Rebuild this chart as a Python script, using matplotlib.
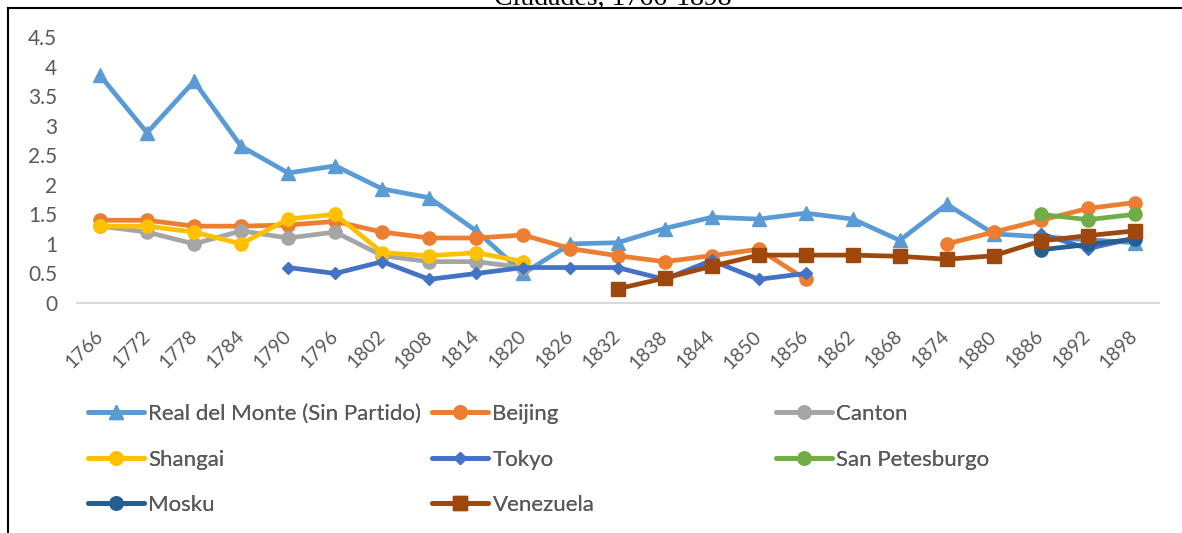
import numpy as np
import matplotlib
matplotlib.use("Agg")
from matplotlib import pyplot as plt
from matplotlib.lines import Line2D

plt.rcParams['font.family'] = ['Lato', 'DejaVu Sans']

years = [1766, 1772, 1778, 1784, 1790, 1796, 1802, 1808, 1814, 1820, 1826, 1832,
         1838, 1844, 1850, 1856, 1862, 1868, 1874, 1880, 1886, 1892, 1898]
N = None

real_del_monte = [3.85, 2.88, 3.75, 2.65, 2.2, 2.32, 1.93, 1.78, 1.22, 0.5, 1.0, 1.02,
                  1.26, 1.45, 1.42, 1.52, 1.42, 1.06, 1.67, 1.17, 1.12, 1.07, 1.02]
beijing = [1.4, 1.4, 1.3, 1.3, 1.32, 1.38, 1.2, 1.1, 1.1, 1.15, 0.92, 0.8,
           0.7, 0.8, 0.91, 0.4, N, N, 1.0, 1.2, 1.4, 1.6, 1.7]
canton = [1.3, 1.2, 1.0, 1.22, 1.1, 1.2, 0.8, 0.7, 0.7, 0.6, N, N,
          N, N, N, N, N, N, N, N, N, N, N]
shangai = [1.3, 1.3, 1.2, 1.0, 1.42, 1.5, 0.85, 0.8, 0.85, 0.7, N, N,
           N, N, N, N, N, N, N, N, N, N, N]
tokyo = [N, N, N, N, 0.6, 0.5, 0.7, 0.4, 0.5, 0.6, 0.6, 0.6,
         0.4, 0.72, 0.4, 0.5, N, N, N, N, 1.17, 0.92, 1.1]
san_petesburgo = [N] * 20 + [1.5, 1.41, 1.5]
mosku = [N] * 20 + [0.9, 0.99, 1.08]
venezuela = [N, N, N, N, N, N, N, N, N, N, N, 0.24,
             0.42, 0.62, 0.81, 0.81, 0.81, 0.79, 0.74, 0.8, 1.05, 1.14, 1.22]

series = [
    ("Real del Monte (Sin Partido)", real_del_monte, "#5B9BD5", "^", 10),
    ("Beijing", beijing, "#ED7D31", "o", 9.5),
    ("Canton", canton, "#A5A5A5", "o", 9.5),
    ("Shangai", shangai, "#FFC000", "o", 9.5),
    ("Tokyo", tokyo, "#4472C4", "D", 6.5),
    ("San Petesburgo", san_petesburgo, "#70AD47", "o", 9.5),
    ("Mosku", mosku, "#255E91", "o", 9.5),
    ("Venezuela", venezuela, "#9E480E", "s", 9.5),
]

fig = plt.figure(figsize=(11.82, 5.33), dpi=100)
ax = fig.add_axes([76.5 / 1182, 1 - 303 / 533, (1158.5 - 76.5) / 1182, (303 - 37) / 533])

x = np.arange(len(years))
handles = []
for name, vals, color, marker, ms in series:
    y = np.array([np.nan if v is None else v for v in vals], dtype=float)
    h, = ax.plot(x, y, color=color, lw=3.4, marker=marker, markersize=ms,
                 markeredgecolor=color, label=name, solid_capstyle='round')
    handles.append(h)

ax.set_xlim(-0.5, len(years) - 0.5)
ax.set_ylim(0, 4.5)
ax.set_yticks(np.arange(0, 4.51, 0.5))
ax.set_yticklabels(["0", "0.5", "1", "1.5", "2", "2.5", "3", "3.5", "4", "4.5"])
ax.set_xticks(x)
ax.set_xticklabels([str(v) for v in years], rotation=45, ha='right', va='center',
                   rotation_mode='anchor')
ax.tick_params(axis='x', length=0, pad=22, labelsize=14, labelcolor='#595959')
ax.tick_params(axis='y', length=0, pad=14, labelsize=15, labelcolor='#595959')
for s in ['top', 'right', 'left']:
    ax.spines[s].set_visible(False)
ax.spines['bottom'].set_color('#D9D9D9')
ax.spines['bottom'].set_linewidth(1.5)
ax.spines['bottom'].set_zorder(0)
ax.patch.set_alpha(0)

# legend laid out like Excel: three equal columns, filled row by row
cols = [[0, 3, 6], [1, 4, 7], [2, 5]]
col_x = [88, 432, 776]
for cx, idx in zip(col_x, cols):
    leg = fig.legend([handles[i] for i in idx], [series[i][0] for i in idx],
                     loc='upper left', bbox_to_anchor=(cx / 1182, 1 - 404 / 533),
                     frameon=False, fontsize=16, labelcolor='#595959',
                     handlelength=2.5, handletextpad=0.22, labelspacing=1.15,
                     borderaxespad=0, borderpad=0)
    fig.add_artist(leg)

# outer frame and cut off title
fig.add_artist(Line2D([8 / 1182, 1], [1 - 8 / 533, 1 - 8 / 533], color='black', lw=1.5))
fig.add_artist(Line2D([8 / 1182, 8 / 1182], [0, 1 - 8 / 533], color='black', lw=1.5))
fig.text(613 / 1182, 1 - 5 / 533, "Ciudades, 1766-1898", family='Liberation Serif',
         fontsize=20, ha='center', va='baseline', color='black')

fig.savefig("out.png", dpi=100)
